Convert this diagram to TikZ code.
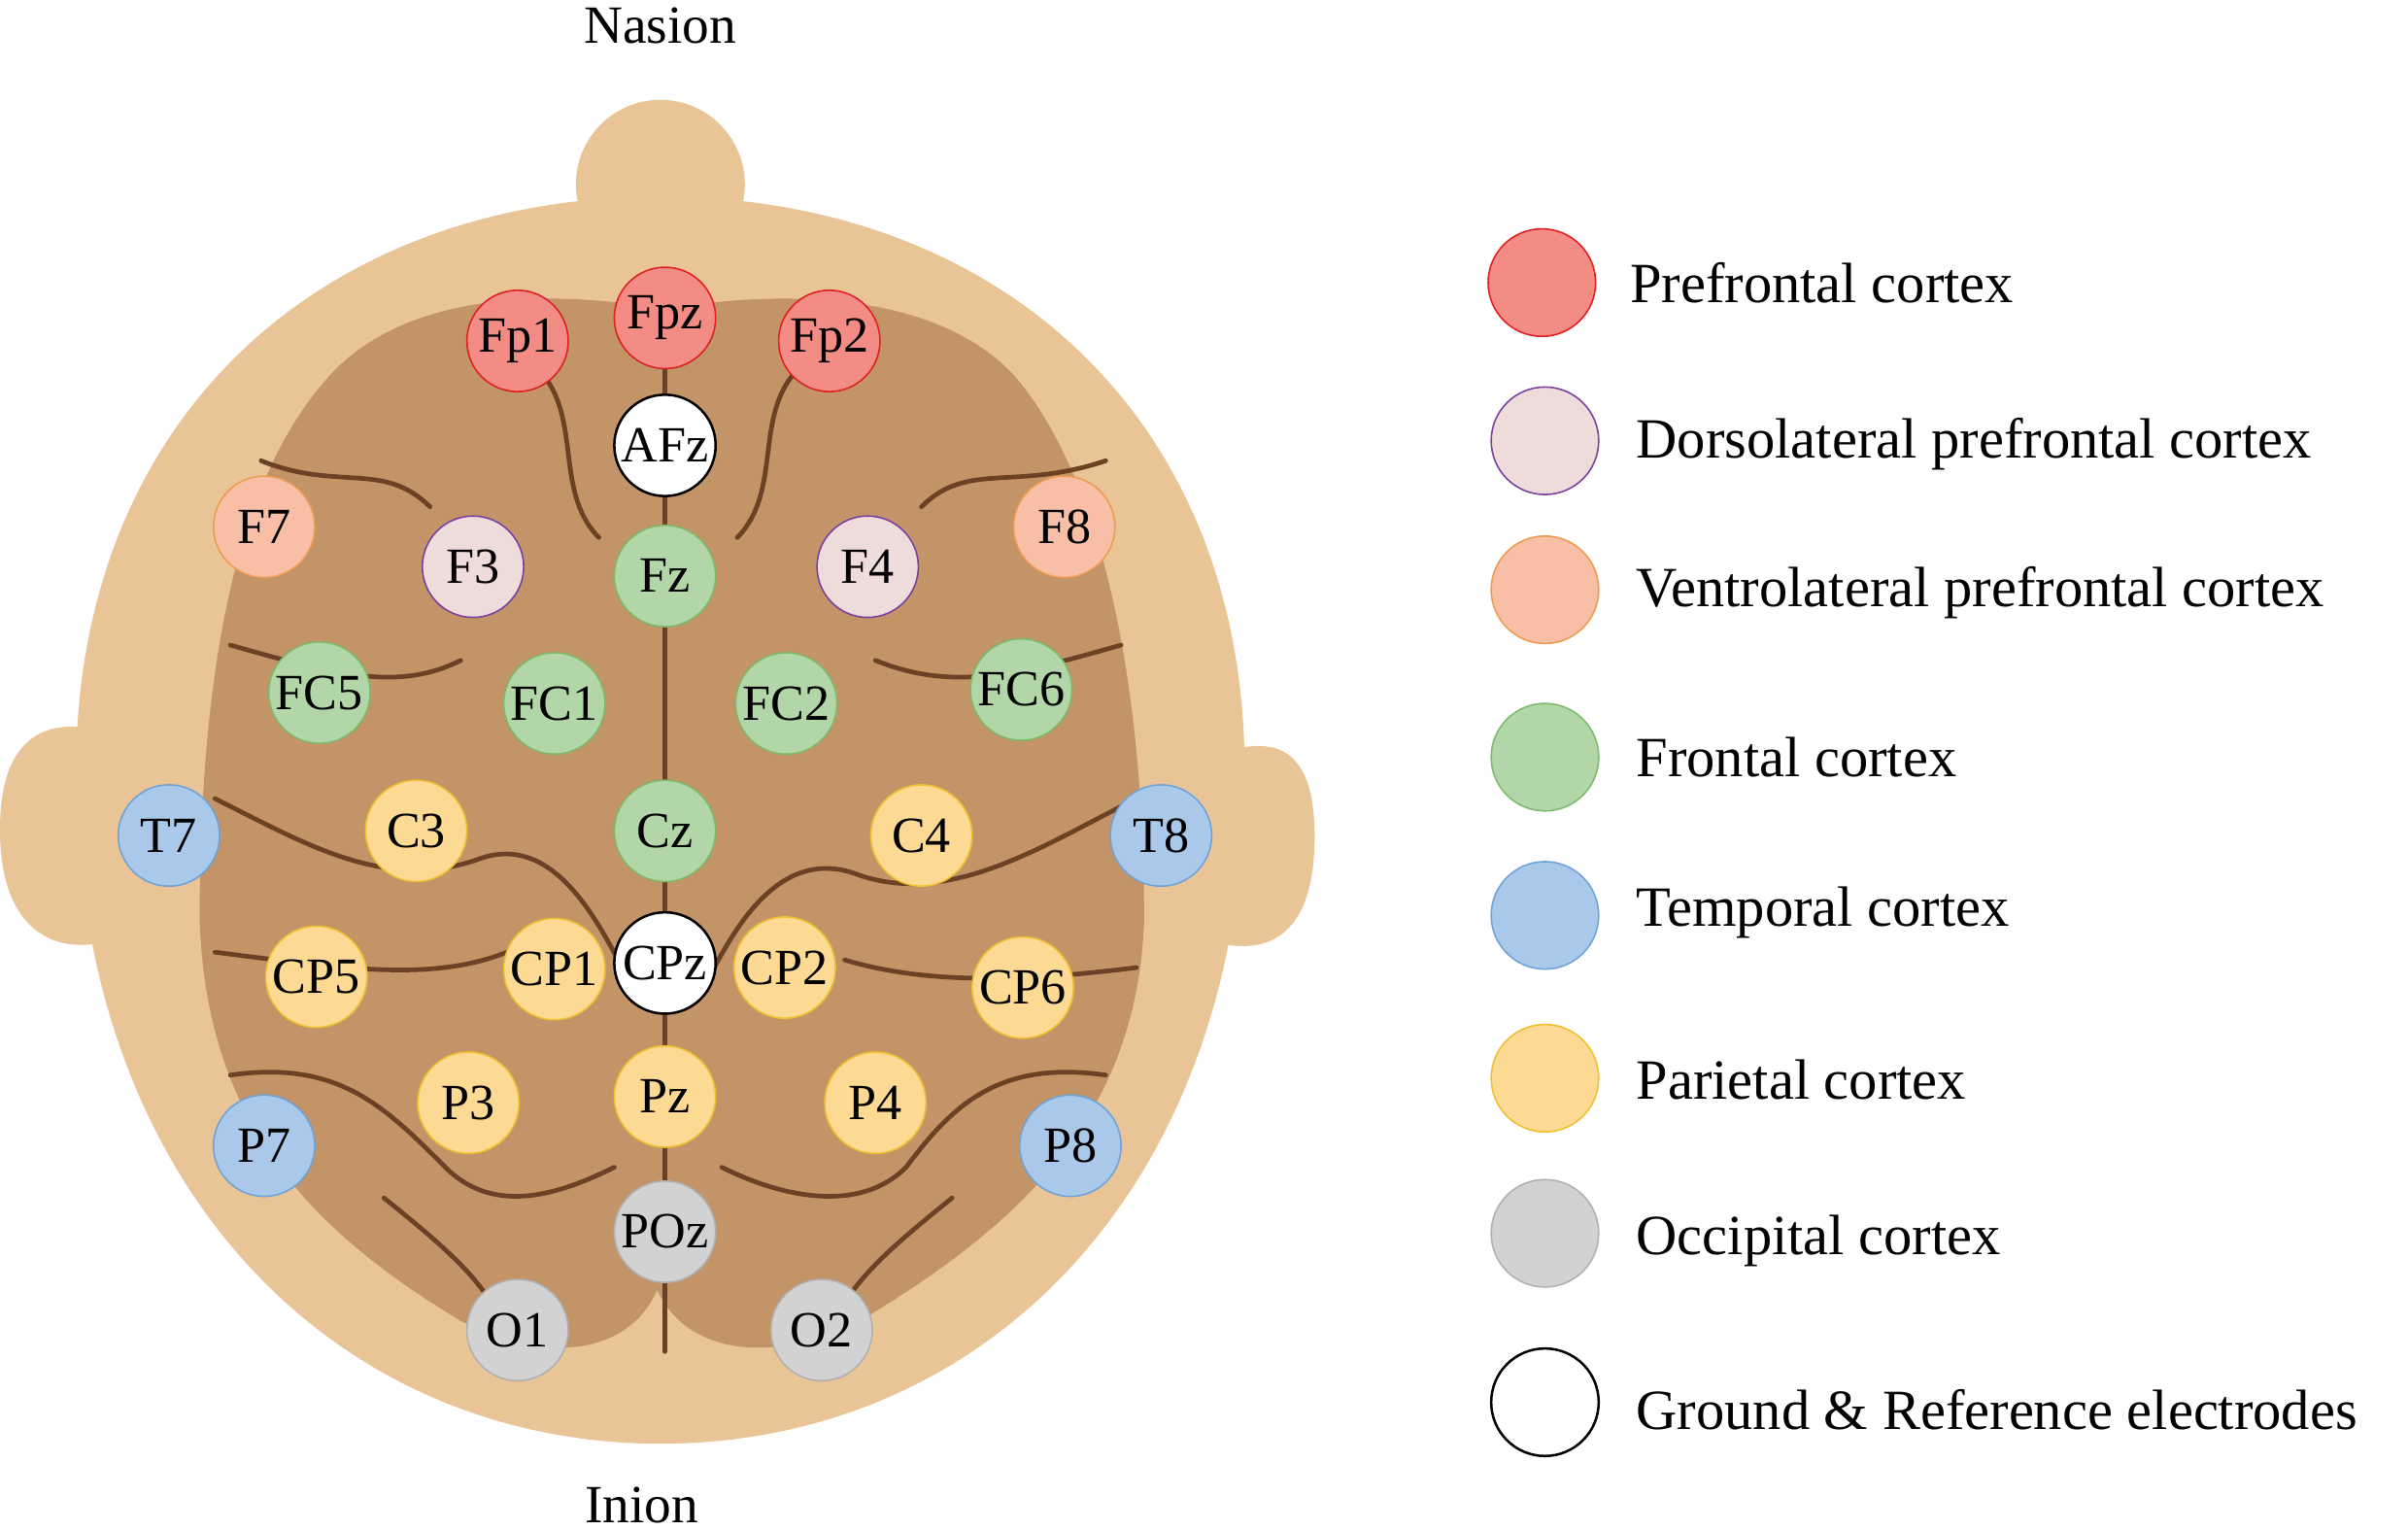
\documentclass[tikz,border=0pt]{standalone}
\usepackage{fontspec}
\setmainfont{Liberation Serif}
\begin{document}
\begin{tikzpicture}[x=1pt,y=-1pt,
 el/.style={circle,minimum size=66pt,inner sep=0pt,line width=1pt,font=\fontsize{33}{34}\selectfont},
 pf/.style={el,fill=pfF,draw=pfD}, dl/.style={el,fill=dlF,draw=dlD}, vl/.style={el,fill=vlF,draw=vlD},
 fr/.style={el,fill=frF,draw=frD}, tp/.style={el,fill=tpF,draw=tpD}, pa/.style={el,fill=paF,draw=paD},
 oc/.style={el,fill=ocF,draw=ocD}, gr/.style={el,fill=white,draw=black,line width=1.6pt},
 lg/.style={minimum size=70pt},
 lt/.style={anchor=west,font=\fontsize{37}{38}\selectfont},
 sul/.style={draw=sulc,line width=3pt,line cap=round}]
\definecolor{pfF}{HTML}{F48C86}\definecolor{pfD}{HTML}{E02020}
\definecolor{dlF}{HTML}{EEDCDA}\definecolor{dlD}{HTML}{7A40A0}
\definecolor{vlF}{HTML}{F8BFA6}\definecolor{vlD}{HTML}{EE9A50}
\definecolor{frF}{HTML}{B3D6A8}\definecolor{frD}{HTML}{7DBB6C}
\definecolor{tpF}{HTML}{AAC8EA}\definecolor{tpD}{HTML}{6FA3D8}
\definecolor{paF}{HTML}{FDDA94}\definecolor{paD}{HTML}{EEC030}
\definecolor{ocF}{HTML}{D2D2D2}\definecolor{ocD}{HTML}{B0B0B0}
\definecolor{head}{HTML}{E9C497}\definecolor{brain}{HTML}{C29468}\definecolor{sulc}{HTML}{6B4226}
\useasboundingbox (0,0) rectangle (1568,996);
% head
\fill[head] (430,120) circle (55);
\fill[head] (0,540) .. controls (0,470) and (40,465) .. (80,480) -- (80,610) .. controls (40,625) and (0,610) .. (0,540) -- cycle;
\fill[head] (856,545) .. controls (856,475) and (820,480) .. (780,495) -- (780,610) .. controls (820,625) and (856,615) .. (856,545) -- cycle;
\fill[head] (430,128) .. controls (640,128) and (800,260) .. (810,480) .. controls (820,760) and (650,940) .. (430,940) .. controls (210,940) and (40,760) .. (50,480) .. controls (60,260) and (220,128) .. (430,128) -- cycle;
% brain
\fill[brain] (425,200) .. controls (330,185) and (250,200) .. (210,250) .. controls (150,320) and (130,450) .. (130,600) .. controls (135,730) and (200,800) .. (300,860) .. controls (360,890) and (410,880) .. (428,840) .. controls (446,880) and (500,890) .. (560,860) .. controls (660,800) and (740,730) .. (745,600) .. controls (745,450) and (720,320) .. (665,250) .. controls (625,200) and (540,185) .. (440,200) -- cycle;
% sulci
\draw[sul] (433,200) -- (433,880);
\draw[sul] (170,300) .. controls (220,320) and (250,300) .. (280,330);
\draw[sul] (150,420) .. controls (220,440) and (260,450) .. (300,430);
\draw[sul] (140,520) .. controls (200,550) and (250,580) .. (310,560) .. controls (360,540) and (390,600) .. (410,640);
\draw[sul] (140,620) .. controls (220,630) and (280,640) .. (330,620);
\draw[sul] (150,700) .. controls (220,690) and (250,720) .. (290,760) .. controls (320,790) and (360,780) .. (400,760);
\draw[sul] (250,780) .. controls (300,820) and (320,840) .. (330,870);
\draw[sul] (350,240) .. controls (380,270) and (360,320) .. (390,350);
\draw[sul] (720,300) .. controls (660,320) and (630,300) .. (600,330);
\draw[sul] (730,420) .. controls (660,440) and (620,450) .. (570,430);
\draw[sul] (740,520) .. controls (680,550) and (620,590) .. (560,570) .. controls (510,550) and (480,600) .. (460,640);
\draw[sul] (740,630) .. controls (660,640) and (600,640) .. (550,625);
\draw[sul] (720,700) .. controls (650,690) and (620,720) .. (590,760) .. controls (560,790) and (510,780) .. (470,760);
\draw[sul] (620,780) .. controls (570,820) and (550,840) .. (540,870);
\draw[sul] (520,240) .. controls (490,270) and (510,320) .. (480,350);
% electrodes
\node[pf] (Fpz) at (433,207) {Fpz};
\node[pf] (Fp1) at (337,222) {Fp1};
\node[pf] (Fp2) at (540,222) {Fp2};
\node[gr] (AFz) at (433,290) {AFz};
\node[vl] (F7) at (172,343) {F7};
\node[dl] (F3) at (308,369) {F3};
\node[fr] (Fz) at (433,375) {Fz};
\node[dl] (F4) at (565,369) {F4};
\node[vl] (F8) at (693,343) {F8};
\node[fr] (FC5) at (208,451) {FC5};
\node[fr] (FC1) at (361,458) {FC1};
\node[fr] (FC2) at (512,458) {FC2};
\node[fr] (FC6) at (665,449) {FC6};
\node[tp] (T7) at (110,544) {T7};
\node[pa] (C3) at (271,541) {C3};
\node[fr] (Cz) at (433,541) {Cz};
\node[pa] (C4) at (600,544) {C4};
\node[tp] (T8) at (756,544) {T8};
\node[pa] (CP5) at (206,636) {CP5};
\node[pa] (CP1) at (361,631) {CP1};
\node[gr] (CPz) at (433,627) {CPz};
\node[pa] (CP2) at (511,630) {CP2};
\node[pa] (CP6) at (666,643) {CP6};
\node[tp] (P7) at (172,746) {P7};
\node[pa] (P3) at (305,718) {P3};
\node[pa] (Pz) at (433,714) {Pz};
\node[pa] (P4) at (570,718) {P4};
\node[tp] (P8) at (697,746) {P8};
\node[oc] (POz) at (433,802) {POz};
\node[oc] (O1) at (337,866) {O1};
\node[oc] (O2) at (535,866) {O2};
\node[font=\fontsize{35}{36}\selectfont] (nas) at (430,17) {Nasion};
\node[font=\fontsize{35}{36}\selectfont] (ini) at (418,980) {Inion};
% legend
\node[pf,lg] (L1) at (1004,184) {}; \node[lt] (T1) at (1058,184) {Prefrontal cortex};
\node[dl,lg] (L2) at (1006,287) {}; \node[lt] (T2) at (1062,289) {Dorsolateral prefrontal cortex};
\node[vl,lg] (L3) at (1006,384) {}; \node[lt] (T3) at (1062,386) {Ventrolateral prefrontal cortex};
\node[fr,lg] (L4) at (1006,493) {}; \node[lt] (T4) at (1062,493) {Frontal cortex};
\node[tp,lg] (L5) at (1006,596) {}; \node[lt] (T5) at (1062,594) {Temporal cortex};
\node[pa,lg] (L6) at (1006,702) {}; \node[lt] (T6) at (1062,703) {Parietal cortex};
\node[oc,lg] (L7) at (1006,803) {}; \node[lt] (T7l) at (1062,808) {Occipital cortex};
\node[gr,lg] (L8) at (1006,913) {}; \node[lt] (T8l) at (1062,918) {Ground \& Reference electrodes};
\end{tikzpicture}
\end{document}
